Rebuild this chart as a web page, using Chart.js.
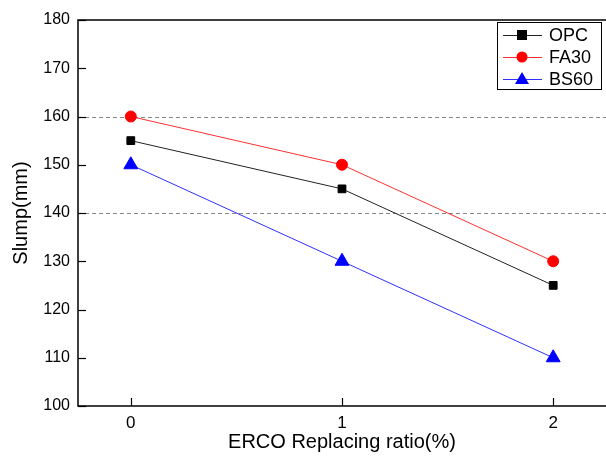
<!DOCTYPE html>
<html>
<head>
<meta charset="utf-8">
<script src="https://cdn.jsdelivr.net/npm/chart.js@4"></script>
<style>
  html, body { margin: 0; padding: 0; background: #fff; }
  #wrap { width: 606px; height: 459px; }
</style>
</head>
<body>
<div id="wrap"><canvas id="c" width="606" height="459"></canvas></div>
<script>
const ratios = [0, 1, 2];
const opc = [155, 145, 125];
const fa30 = [160, 150, 130];
const bs60 = [150, 130, 110];
const yTicks = [100, 110, 120, 130, 140, 150, 160, 170, 180];
const dashedAt = [140, 160];

const FONT = '"Liberation Sans", Arial, sans-serif';

const toPoints = (vals) => vals.map((v, i) => ({ x: ratios[i], y: v }));

// inward ticks, dashed reference lines, frame and legend box
const decor = {
  id: 'decor',
  beforeDatasetsDraw(chart) {
    const { ctx, chartArea: a, scales: { y } } = chart;
    ctx.save();
    ctx.strokeStyle = '#888';
    ctx.lineWidth = 1;
    ctx.setLineDash([4, 3]);
    dashedAt.forEach((v) => {
      const py = Math.round(y.getPixelForValue(v)) + 0.5;
      ctx.beginPath();
      ctx.moveTo(a.left, py);
      ctx.lineTo(a.right, py);
      ctx.stroke();
    });
    ctx.restore();
  },
  afterDraw(chart) {
    const { ctx, chartArea: a, scales: { x, y } } = chart;
    ctx.save();
    ctx.strokeStyle = '#000';
    ctx.lineWidth = 1.5;
    // frame is cut off on the right in the original figure
    ctx.beginPath();
    ctx.moveTo(a.right, a.top);
    ctx.lineTo(a.left, a.top);
    ctx.lineTo(a.left, a.bottom);
    ctx.lineTo(a.right, a.bottom);
    ctx.stroke();
    ctx.lineWidth = 1.2;
    yTicks.forEach((v) => {
      const py = Math.round(y.getPixelForValue(v)) + 0.5;
      ctx.beginPath();
      ctx.moveTo(a.left, py);
      ctx.lineTo(a.left + 8, py);
      ctx.stroke();
    });
    ratios.forEach((v) => {
      const px = Math.round(x.getPixelForValue(v)) + 0.5;
      ctx.beginPath();
      ctx.moveTo(px, a.bottom);
      ctx.lineTo(px, a.bottom - 8);
      ctx.stroke();
    });

    // legend
    const bx = 497, by = 22, bw = 104, bh = 67;
    ctx.fillStyle = '#fff';
    ctx.fillRect(bx, by, bw, bh);
    ctx.lineWidth = 1;
    ctx.strokeStyle = '#000';
    ctx.strokeRect(bx + 0.5, by + 0.5, bw, bh);
    const rows = [35, 57, 79];
    chart.data.datasets.forEach((ds, i) => {
      const ry = rows[i];
      ctx.strokeStyle = ds.borderColor;
      ctx.lineWidth = 1;
      ctx.beginPath();
      ctx.moveTo(503, ry + 0.5);
      ctx.lineTo(542, ry + 0.5);
      ctx.stroke();
      ctx.fillStyle = ds.pointBackgroundColor;
      ctx.beginPath();
      if (ds.pointStyle === 'rect') {
        ctx.rect(517, ry - 5, 10, 10);
      } else if (ds.pointStyle === 'circle') {
        ctx.arc(522, ry, 5.5, 0, Math.PI * 2);
      } else {
        ctx.moveTo(522, ry - 7);
        ctx.lineTo(529, ry + 5);
        ctx.lineTo(515, ry + 5);
        ctx.closePath();
      }
      ctx.fill();
      ctx.fillStyle = '#000';
      ctx.font = '18px ' + FONT;
      ctx.textBaseline = 'middle';
      ctx.textAlign = 'left';
      ctx.fillText(ds.label, 549, ry + 1);
    });
    ctx.restore();
  }
};

new Chart(document.getElementById('c'), {
  type: 'line',
  data: {
    datasets: [
      { label: 'OPC', data: toPoints(opc), borderColor: '#222', pointBackgroundColor: '#000',
        pointBorderColor: '#000', pointStyle: 'rect', pointRadius: 5.5, borderWidth: 1 },
      { label: 'FA30', data: toPoints(fa30), borderColor: '#ff3030', pointBackgroundColor: '#ff0000',
        pointBorderColor: '#ff0000', pointStyle: 'circle', pointRadius: 5.5, borderWidth: 1 },
      { label: 'BS60', data: toPoints(bs60), borderColor: '#3030ff', pointBackgroundColor: '#0000ff',
        pointBorderColor: '#0000ff', pointStyle: 'triangle', pointRadius: 8, borderWidth: 1 }
    ]
  },
  options: {
    responsive: false,
    animation: false,
    layout: { autoPadding: false, padding: { top: 20, right: 0, left: 0, bottom: 0 } },
    plugins: { legend: { display: false }, tooltip: { enabled: false } },
    scales: {
      x: {
        type: 'linear',
        min: -0.25,
        max: 2.25,
        afterFit: (s) => { s.height = 53; s.paddingLeft = 0; s.paddingRight = 0; },
        afterBuildTicks: (s) => { s.ticks = ratios.map((v) => ({ value: v })); },
        grid: { display: false, drawTicks: false },
        border: { display: false },
        ticks: { color: '#000', font: { family: FONT, size: 17 }, padding: 7,
          callback: (v) => String(v) },
        title: { display: true, text: 'ERCO Replacing ratio(%)', color: '#000',
          font: { family: FONT, size: 20 }, padding: { top: 0, bottom: 5 } }
      },
      y: {
        min: 100,
        max: 180,
        afterFit: (s) => { s.width = 78; s.paddingTop = 0; s.paddingBottom = 0; },
        afterBuildTicks: (s) => { s.ticks = yTicks.map((v) => ({ value: v })); },
        grid: { display: false, drawTicks: false },
        border: { display: false },
        ticks: { color: '#000', font: { family: FONT, size: 16 }, padding: 8 },
        title: { display: true, text: 'Slump(mm)', color: '#000',
          font: { family: FONT, size: 20 }, padding: { top: 9, bottom: 0 } }
      }
    }
  },
  plugins: [decor]
});
</script>
</body>
</html>
